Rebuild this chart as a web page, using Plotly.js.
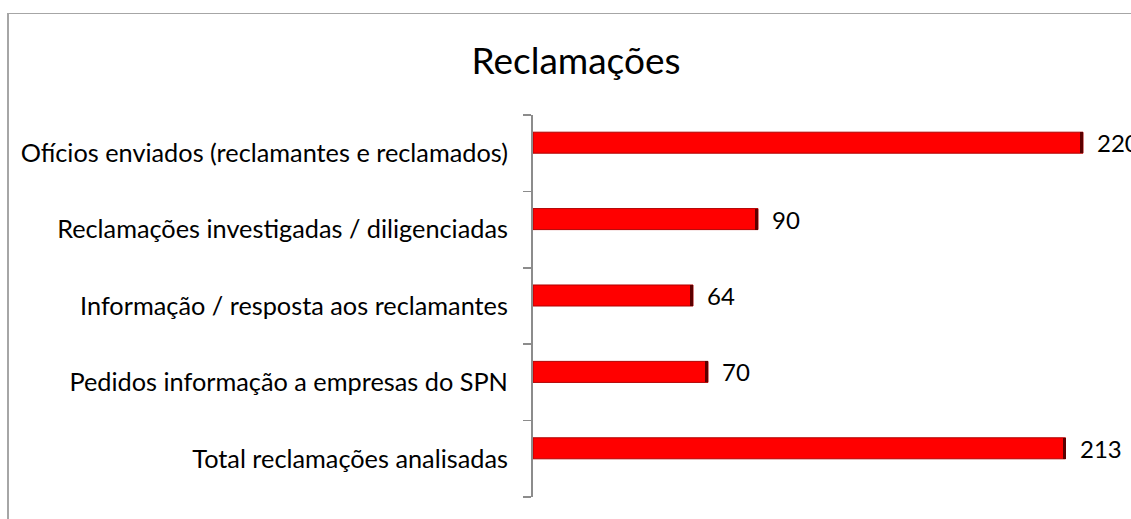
<!DOCTYPE html>
<html>
<head>
<meta charset="utf-8">
<script src="https://cdn.plot.ly/plotly-3.0.1.min.js"></script>
<style>
html,body{margin:0;padding:0;background:#fff;}
#chart{width:1131px;height:519px;}
</style>
</head>
<body>
<div id="chart"></div>
<script>
// Categories listed bottom to top
const categories = [
  "Total reclamações analisadas",
  "Pedidos informação a empresas do SPN",
  "Informação / resposta aos reclamantes",
  "Reclamações investigadas / diligenciadas",
  "Ofícios enviados (reclamantes e reclamados)"
];
const values = [213, 70, 64, 90, 220];
const labels = ["213", "70", "64", "90", "220"];
const chartTitle = "Reclamações";

const FONT = "Lato, 'Open Sans', sans-serif";
const CAP = 1.2; // width of dark end cap, in axis units

const bars = {
  type: "bar",
  orientation: "h",
  y: categories,
  x: values,
  width: 0.275,
  offset: 0,
  marker: {
    color: "#ff0000",
    line: {color: "#b00000", width: 1}
  },
  hoverinfo: "skip",
  showlegend: false
};

const caps = {
  type: "bar",
  orientation: "h",
  y: categories,
  x: values.map(() => CAP),
  base: values.map(v => v - CAP),
  width: 0.275,
  offset: 0,
  marker: {color: "#5c0000", line: {width: 0}},
  hoverinfo: "skip",
  showlegend: false
};

const annotations = categories.map((c, i) => ({
  x: values[i],
  y: c,
  xref: "x",
  yref: "y",
  text: labels[i],
  showarrow: false,
  xanchor: "left",
  yanchor: "middle",
  xshift: 12,
  yshift: 10.5,
  font: {family: FONT, size: 24, color: "#000"}
}));

const pw = 1131 - 533; // plot width
const ph = 497 - 115;  // plot height
const px = v => (v - 533) / pw;
const py = v => (497 - v) / ph;

const layout = {
  width: 1131,
  height: 519,
  margin: {l: 533, r: 0, t: 115, b: 22, pad: 0},
  paper_bgcolor: "#ffffff",
  plot_bgcolor: "#ffffff",
  barmode: "overlay",
  title: {
    text: chartTitle,
    font: {family: FONT, size: 37, color: "#000"},
    xref: "container", yref: "container",
    x: 576 / 1131, xanchor: "center",
    y: 1 - 61 / 519, yanchor: "middle"
  },
  xaxis: {
    range: [0, pw / 2.5],
    visible: false,
    fixedrange: true
  },
  yaxis: {
    type: "category",
    showgrid: false,
    zeroline: false,
    showline: true,
    linecolor: "#8c8c8c",
    linewidth: 2,
    ticks: "outside",
    tickson: "boundaries",
    ticklen: 8,
    tickwidth: 1.5,
    tickcolor: "#8c8c8c",
    ticklabelstandoff: 18,
    tickfont: {family: FONT, size: 25.3, color: "#000"},
    fixedrange: true
  },
  bargap: 0,
  annotations: annotations,
  shapes: [
    {type: "line", xref: "paper", yref: "paper", layer: "above",
     x0: px(8), x1: px(8), y0: py(13.5), y1: py(530),
     line: {color: "#a6a6a6", width: 2}},
    {type: "line", xref: "paper", yref: "paper", layer: "above",
     x0: px(7), x1: px(1140), y0: py(13.5), y1: py(13.5),
     line: {color: "#a6a6a6", width: 1}}
  ]
};

Plotly.newPlot("chart", [bars, caps], layout, {displayModeBar: false, staticPlot: true});
</script>
</body>
</html>
